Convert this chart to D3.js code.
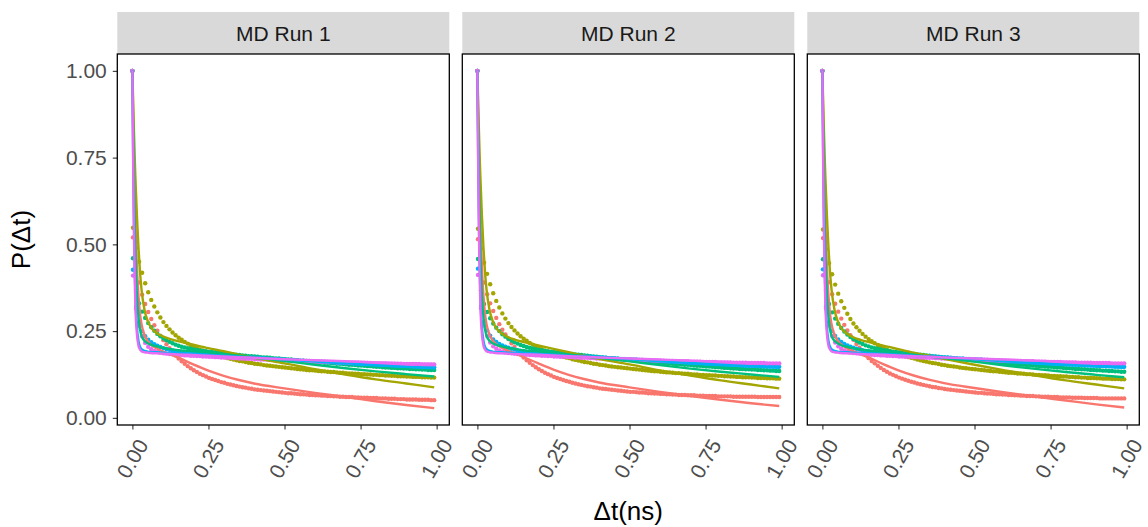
<!DOCTYPE html>
<html>
<head>
<meta charset="utf-8">
<script src="https://cdn.jsdelivr.net/npm/d3@7"></script>
<style>
  html, body { margin: 0; padding: 0; background: #fff; }
  svg { display: block; font-family: "Liberation Sans", Arial, Helvetica, sans-serif; }
</style>
</head>
<body>
<svg id="chart" width="1148" height="527"></svg>
<script>
// ---- data ------------------------------------------------------------
const runLabels = ["MD Run 1", "MD Run 2", "MD Run 3"];
const groupColors = ["#F8766D", "#A3A500", "#00BF7D", "#00B0F6", "#E76BF3"];
const xTicks = [0, 0.25, 0.5, 0.75, 1.0];
const yTicks = [0, 0.25, 0.5, 0.75, 1.0];

// sampling times (ns): t = 0, then every 10 ps starting at 2 ps
const sampleTimes = [0].concat(d3.range(100).map(k => +(0.002 + 0.01 * k).toFixed(3)));
// times at which the fitted curves are evaluated (ns)
const fitTimes = [0, 0.002, 0.004, 0.006, 0.008, 0.01, 0.015, 0.02, 0.025, 0.03, 0.04, 0.05, 0.06,
  0.08, 0.1, 0.125, 0.15, 0.2, 0.25, 0.3, 0.35, 0.4, 0.5, 0.6, 0.7, 0.8, 0.9, 0.992];

// ---------- MD Run 1: observed P(dt) ----------
const run1Red = [1.000,
  0.520, 0.440, 0.390, 0.355, 0.328, 0.305, 0.285, 0.267, 0.251, 0.237,
  0.224, 0.212, 0.201, 0.190, 0.180, 0.171, 0.163, 0.156, 0.149, 0.143,
  0.137, 0.132, 0.127, 0.123, 0.119, 0.115, 0.112, 0.109, 0.106, 0.103,
  0.101, 0.098, 0.096, 0.094, 0.092, 0.090, 0.088, 0.087, 0.085, 0.084,
  0.082, 0.081, 0.080, 0.079, 0.078, 0.077, 0.076, 0.075, 0.074, 0.073,
  0.072, 0.071, 0.071, 0.070, 0.069, 0.068, 0.068, 0.067, 0.066, 0.066,
  0.065, 0.065, 0.064, 0.064, 0.063, 0.063, 0.062, 0.062, 0.061, 0.061,
  0.060, 0.060, 0.060, 0.059, 0.059, 0.058, 0.058, 0.058, 0.057, 0.057,
  0.057, 0.056, 0.056, 0.056, 0.055, 0.055, 0.055, 0.054, 0.054, 0.054,
  0.053, 0.053, 0.053, 0.053, 0.052, 0.052, 0.052, 0.052, 0.051, 0.051];
const run1Olive = [1.000,
  0.548, 0.490, 0.450, 0.418, 0.388, 0.362, 0.340, 0.321, 0.304, 0.289,
  0.276, 0.265, 0.255, 0.246, 0.238, 0.231, 0.225, 0.219, 0.214, 0.209,
  0.205, 0.201, 0.197, 0.194, 0.191, 0.188, 0.185, 0.182, 0.179, 0.177,
  0.175, 0.172, 0.170, 0.168, 0.166, 0.164, 0.163, 0.161, 0.159, 0.158,
  0.156, 0.155, 0.154, 0.152, 0.151, 0.150, 0.149, 0.148, 0.147, 0.146,
  0.145, 0.144, 0.143, 0.142, 0.141, 0.140, 0.139, 0.138, 0.137, 0.137,
  0.136, 0.135, 0.134, 0.134, 0.133, 0.132, 0.132, 0.131, 0.130, 0.130,
  0.129, 0.128, 0.128, 0.127, 0.127, 0.126, 0.126, 0.125, 0.125, 0.124,
  0.124, 0.123, 0.123, 0.122, 0.122, 0.121, 0.121, 0.120, 0.120, 0.120,
  0.119, 0.119, 0.118, 0.118, 0.118, 0.117, 0.117, 0.117, 0.116, 0.116];
const run1Green = [1.000,
  0.460, 0.370, 0.330, 0.306, 0.288, 0.273, 0.261, 0.251, 0.242, 0.235,
  0.229, 0.224, 0.219, 0.215, 0.211, 0.208, 0.205, 0.203, 0.201, 0.199,
  0.197, 0.196, 0.194, 0.193, 0.192, 0.191, 0.190, 0.189, 0.188, 0.187,
  0.186, 0.185, 0.184, 0.183, 0.182, 0.181, 0.180, 0.179, 0.178, 0.178,
  0.177, 0.176, 0.175, 0.174, 0.174, 0.173, 0.172, 0.171, 0.171, 0.170,
  0.169, 0.168, 0.168, 0.167, 0.166, 0.165, 0.165, 0.164, 0.163, 0.162,
  0.162, 0.161, 0.160, 0.159, 0.159, 0.158, 0.157, 0.156, 0.156, 0.155,
  0.154, 0.153, 0.153, 0.152, 0.151, 0.151, 0.150, 0.149, 0.149, 0.148,
  0.147, 0.147, 0.146, 0.145, 0.145, 0.144, 0.144, 0.143, 0.143, 0.142,
  0.142, 0.141, 0.141, 0.140, 0.140, 0.139, 0.139, 0.138, 0.138, 0.138];
const run1Blue = [1.000,
  0.427, 0.320, 0.275, 0.250, 0.235, 0.225, 0.218, 0.212, 0.208, 0.204,
  0.201, 0.198, 0.196, 0.194, 0.192, 0.191, 0.189, 0.188, 0.187, 0.186,
  0.186, 0.185, 0.184, 0.184, 0.183, 0.182, 0.182, 0.181, 0.180, 0.180,
  0.179, 0.179, 0.178, 0.177, 0.177, 0.176, 0.176, 0.175, 0.174, 0.174,
  0.173, 0.173, 0.172, 0.171, 0.171, 0.170, 0.170, 0.169, 0.169, 0.168,
  0.168, 0.167, 0.167, 0.166, 0.166, 0.165, 0.165, 0.164, 0.164, 0.163,
  0.163, 0.162, 0.162, 0.161, 0.161, 0.160, 0.160, 0.159, 0.159, 0.158,
  0.158, 0.157, 0.157, 0.156, 0.156, 0.155, 0.155, 0.155, 0.154, 0.154,
  0.153, 0.153, 0.152, 0.152, 0.152, 0.151, 0.151, 0.150, 0.150, 0.150,
  0.149, 0.149, 0.149, 0.148, 0.148, 0.148, 0.147, 0.147, 0.147, 0.146];
const run1Pink = [1.000,
  0.410, 0.315, 0.265, 0.235, 0.216, 0.205, 0.198, 0.193, 0.190, 0.188,
  0.186, 0.185, 0.184, 0.183, 0.182, 0.181, 0.181, 0.180, 0.180, 0.179,
  0.179, 0.178, 0.178, 0.177, 0.177, 0.176, 0.176, 0.175, 0.175, 0.174,
  0.174, 0.173, 0.173, 0.172, 0.172, 0.171, 0.171, 0.170, 0.170, 0.170,
  0.169, 0.169, 0.168, 0.168, 0.168, 0.167, 0.167, 0.167, 0.166, 0.166,
  0.166, 0.165, 0.165, 0.165, 0.164, 0.164, 0.164, 0.163, 0.163, 0.163,
  0.162, 0.162, 0.162, 0.162, 0.161, 0.161, 0.161, 0.160, 0.160, 0.160,
  0.160, 0.159, 0.159, 0.159, 0.159, 0.158, 0.158, 0.158, 0.158, 0.157,
  0.157, 0.157, 0.157, 0.157, 0.156, 0.156, 0.156, 0.156, 0.156, 0.155,
  0.155, 0.155, 0.155, 0.155, 0.155, 0.154, 0.154, 0.154, 0.154, 0.154];

// ---------- MD Run 1: fitted curves (at fitTimes) ----------
const run1RedFit   = [1.0, 0.90, 0.80, 0.71, 0.63, 0.56, 0.43, 0.35, 0.30, 0.27, 0.238, 0.222, 0.212, 0.200,
  0.192, 0.183, 0.174, 0.154, 0.136, 0.121, 0.109, 0.099, 0.085, 0.072, 0.060, 0.048, 0.037, 0.028];
const run1OliveFit = [1.0, 0.93, 0.86, 0.80, 0.74, 0.69, 0.58, 0.49, 0.42, 0.37, 0.31, 0.28, 0.262, 0.244,
  0.235, 0.227, 0.221, 0.211, 0.201, 0.192, 0.182, 0.173, 0.157, 0.140, 0.125, 0.111, 0.099, 0.088];
const run1GreenFit = [1.0, 0.86, 0.74, 0.63, 0.54, 0.47, 0.35, 0.29, 0.255, 0.237, 0.222, 0.215, 0.211, 0.206,
  0.202, 0.198, 0.195, 0.192, 0.188, 0.184, 0.179, 0.174, 0.164, 0.153, 0.143, 0.134, 0.126, 0.119];
const run1BlueFit  = [1.0, 0.80, 0.64, 0.51, 0.42, 0.35, 0.26, 0.222, 0.205, 0.198, 0.193, 0.191, 0.190, 0.189,
  0.188, 0.187, 0.186, 0.184, 0.181, 0.179, 0.176, 0.173, 0.168, 0.162, 0.157, 0.152, 0.147, 0.143];
const run1PinkFit  = [1.0, 0.78, 0.61, 0.48, 0.39, 0.32, 0.24, 0.208, 0.197, 0.192, 0.189, 0.188, 0.187, 0.186,
  0.185, 0.184, 0.183, 0.181, 0.179, 0.177, 0.175, 0.173, 0.169, 0.166, 0.163, 0.160, 0.157, 0.155];

// ---------- MD Run 2: observed P(dt) ----------
const run2Red = [1.000,
  0.515, 0.438, 0.390, 0.356, 0.330, 0.308, 0.288, 0.270, 0.254, 0.240,
  0.227, 0.215, 0.204, 0.193, 0.183, 0.174, 0.166, 0.159, 0.152, 0.146,
  0.140, 0.135, 0.130, 0.126, 0.122, 0.118, 0.115, 0.112, 0.109, 0.106,
  0.104, 0.101, 0.099, 0.097, 0.095, 0.093, 0.091, 0.090, 0.088, 0.087,
  0.085, 0.084, 0.083, 0.082, 0.081, 0.080, 0.079, 0.078, 0.077, 0.076,
  0.075, 0.075, 0.074, 0.073, 0.073, 0.072, 0.071, 0.071, 0.070, 0.070,
  0.069, 0.069, 0.068, 0.068, 0.067, 0.067, 0.066, 0.066, 0.066, 0.065,
  0.065, 0.065, 0.064, 0.064, 0.064, 0.063, 0.063, 0.063, 0.063, 0.062,
  0.062, 0.062, 0.062, 0.062, 0.061, 0.061, 0.061, 0.061, 0.061, 0.061,
  0.061, 0.061, 0.060, 0.060, 0.060, 0.060, 0.060, 0.060, 0.060, 0.060];
const run2Olive = [1.000,
  0.545, 0.488, 0.447, 0.415, 0.385, 0.359, 0.337, 0.318, 0.301, 0.286,
  0.273, 0.262, 0.252, 0.243, 0.235, 0.228, 0.222, 0.216, 0.211, 0.206,
  0.202, 0.198, 0.194, 0.191, 0.188, 0.185, 0.182, 0.179, 0.176, 0.174,
  0.172, 0.169, 0.167, 0.165, 0.163, 0.161, 0.160, 0.158, 0.156, 0.155,
  0.153, 0.152, 0.151, 0.149, 0.148, 0.147, 0.146, 0.145, 0.144, 0.143,
  0.142, 0.141, 0.140, 0.139, 0.138, 0.137, 0.136, 0.135, 0.134, 0.134,
  0.133, 0.132, 0.131, 0.131, 0.130, 0.129, 0.129, 0.128, 0.127, 0.127,
  0.126, 0.125, 0.125, 0.124, 0.124, 0.123, 0.123, 0.122, 0.122, 0.121,
  0.121, 0.120, 0.120, 0.119, 0.119, 0.118, 0.118, 0.117, 0.117, 0.117,
  0.116, 0.116, 0.115, 0.115, 0.115, 0.114, 0.114, 0.114, 0.113, 0.113];
const run2Green = [1.000,
  0.458, 0.368, 0.328, 0.305, 0.287, 0.272, 0.260, 0.250, 0.241, 0.234,
  0.228, 0.223, 0.218, 0.214, 0.210, 0.207, 0.204, 0.202, 0.200, 0.198,
  0.196, 0.195, 0.193, 0.192, 0.191, 0.190, 0.189, 0.188, 0.187, 0.186,
  0.185, 0.184, 0.183, 0.182, 0.181, 0.180, 0.179, 0.178, 0.177, 0.176,
  0.175, 0.174, 0.173, 0.172, 0.172, 0.171, 0.170, 0.169, 0.168, 0.168,
  0.167, 0.166, 0.165, 0.164, 0.164, 0.163, 0.162, 0.161, 0.161, 0.160,
  0.159, 0.158, 0.158, 0.157, 0.156, 0.155, 0.155, 0.154, 0.153, 0.153,
  0.152, 0.151, 0.150, 0.150, 0.149, 0.148, 0.148, 0.147, 0.146, 0.146,
  0.145, 0.144, 0.144, 0.143, 0.142, 0.142, 0.141, 0.141, 0.140, 0.140,
  0.139, 0.139, 0.138, 0.138, 0.137, 0.137, 0.136, 0.136, 0.135, 0.135];
const run2Blue = [1.000,
  0.430, 0.322, 0.277, 0.252, 0.237, 0.226, 0.219, 0.213, 0.209, 0.205,
  0.202, 0.199, 0.197, 0.195, 0.193, 0.192, 0.190, 0.189, 0.188, 0.187,
  0.187, 0.186, 0.185, 0.185, 0.184, 0.183, 0.183, 0.182, 0.181, 0.181,
  0.180, 0.180, 0.179, 0.178, 0.178, 0.177, 0.177, 0.176, 0.175, 0.175,
  0.174, 0.174, 0.173, 0.172, 0.172, 0.171, 0.171, 0.170, 0.170, 0.169,
  0.169, 0.168, 0.168, 0.167, 0.167, 0.166, 0.166, 0.165, 0.165, 0.164,
  0.164, 0.163, 0.163, 0.162, 0.162, 0.161, 0.161, 0.160, 0.160, 0.159,
  0.159, 0.158, 0.158, 0.157, 0.157, 0.156, 0.156, 0.156, 0.155, 0.155,
  0.154, 0.154, 0.153, 0.153, 0.153, 0.152, 0.152, 0.151, 0.151, 0.151,
  0.150, 0.150, 0.150, 0.149, 0.149, 0.149, 0.148, 0.148, 0.148, 0.147];
const run2Pink = [1.000,
  0.412, 0.316, 0.266, 0.236, 0.217, 0.206, 0.199, 0.194, 0.191, 0.189,
  0.187, 0.186, 0.185, 0.184, 0.183, 0.182, 0.182, 0.181, 0.181, 0.180,
  0.180, 0.179, 0.179, 0.178, 0.178, 0.177, 0.177, 0.176, 0.176, 0.176,
  0.175, 0.175, 0.174, 0.174, 0.173, 0.173, 0.173, 0.172, 0.172, 0.171,
  0.171, 0.171, 0.170, 0.170, 0.170, 0.169, 0.169, 0.169, 0.168, 0.168,
  0.168, 0.167, 0.167, 0.167, 0.167, 0.166, 0.166, 0.166, 0.165, 0.165,
  0.165, 0.165, 0.164, 0.164, 0.164, 0.164, 0.163, 0.163, 0.163, 0.163,
  0.162, 0.162, 0.162, 0.162, 0.161, 0.161, 0.161, 0.161, 0.161, 0.160,
  0.160, 0.160, 0.160, 0.160, 0.159, 0.159, 0.159, 0.159, 0.159, 0.158,
  0.158, 0.158, 0.158, 0.158, 0.158, 0.157, 0.157, 0.157, 0.157, 0.157];

// ---------- MD Run 2: fitted curves ----------
const run2RedFit   = [1.0, 0.90, 0.80, 0.71, 0.63, 0.56, 0.43, 0.35, 0.30, 0.27, 0.240, 0.224, 0.214, 0.202,
  0.194, 0.185, 0.176, 0.157, 0.139, 0.124, 0.112, 0.102, 0.088, 0.075, 0.063, 0.052, 0.042, 0.034];
const run2OliveFit = [1.0, 0.93, 0.86, 0.80, 0.74, 0.69, 0.58, 0.49, 0.42, 0.37, 0.31, 0.28, 0.261, 0.243,
  0.233, 0.225, 0.219, 0.209, 0.199, 0.189, 0.179, 0.170, 0.154, 0.137, 0.122, 0.108, 0.096, 0.085];
const run2GreenFit = [1.0, 0.86, 0.74, 0.63, 0.54, 0.47, 0.35, 0.29, 0.255, 0.237, 0.222, 0.215, 0.211, 0.206,
  0.202, 0.198, 0.195, 0.191, 0.187, 0.183, 0.178, 0.173, 0.163, 0.152, 0.142, 0.133, 0.125, 0.118];
const run2BlueFit  = [1.0, 0.80, 0.64, 0.51, 0.42, 0.35, 0.26, 0.222, 0.205, 0.198, 0.193, 0.191, 0.190, 0.189,
  0.188, 0.187, 0.186, 0.184, 0.182, 0.179, 0.177, 0.174, 0.169, 0.163, 0.158, 0.153, 0.148, 0.144];
const run2PinkFit  = [1.0, 0.78, 0.61, 0.48, 0.39, 0.32, 0.24, 0.208, 0.197, 0.192, 0.189, 0.188, 0.187, 0.186,
  0.185, 0.184, 0.183, 0.182, 0.180, 0.178, 0.176, 0.174, 0.171, 0.168, 0.165, 0.162, 0.159, 0.157];

// ---------- MD Run 3: observed P(dt) ----------
const run3Red = [1.000,
  0.518, 0.440, 0.391, 0.356, 0.329, 0.306, 0.286, 0.268, 0.252, 0.238,
  0.225, 0.213, 0.202, 0.191, 0.181, 0.172, 0.164, 0.157, 0.150, 0.144,
  0.138, 0.133, 0.128, 0.124, 0.120, 0.116, 0.113, 0.110, 0.107, 0.104,
  0.102, 0.099, 0.097, 0.095, 0.093, 0.091, 0.089, 0.088, 0.086, 0.085,
  0.083, 0.082, 0.081, 0.080, 0.079, 0.078, 0.077, 0.076, 0.075, 0.074,
  0.073, 0.072, 0.072, 0.071, 0.070, 0.070, 0.069, 0.068, 0.068, 0.067,
  0.067, 0.066, 0.066, 0.065, 0.065, 0.064, 0.064, 0.063, 0.063, 0.063,
  0.062, 0.062, 0.061, 0.061, 0.061, 0.060, 0.060, 0.060, 0.059, 0.059,
  0.059, 0.059, 0.058, 0.058, 0.058, 0.058, 0.057, 0.057, 0.057, 0.057,
  0.057, 0.056, 0.056, 0.056, 0.056, 0.056, 0.056, 0.056, 0.056, 0.056];
const run3Olive = [1.000,
  0.543, 0.486, 0.446, 0.414, 0.384, 0.358, 0.336, 0.317, 0.300, 0.285,
  0.272, 0.261, 0.251, 0.242, 0.234, 0.227, 0.221, 0.215, 0.210, 0.205,
  0.201, 0.197, 0.193, 0.190, 0.187, 0.184, 0.181, 0.178, 0.175, 0.173,
  0.171, 0.168, 0.166, 0.164, 0.162, 0.160, 0.158, 0.157, 0.155, 0.153,
  0.152, 0.150, 0.149, 0.148, 0.147, 0.145, 0.144, 0.143, 0.142, 0.141,
  0.140, 0.139, 0.138, 0.137, 0.136, 0.135, 0.134, 0.134, 0.133, 0.132,
  0.131, 0.130, 0.130, 0.129, 0.128, 0.128, 0.127, 0.126, 0.126, 0.125,
  0.124, 0.124, 0.123, 0.123, 0.122, 0.121, 0.121, 0.120, 0.120, 0.119,
  0.119, 0.118, 0.118, 0.117, 0.117, 0.116, 0.116, 0.115, 0.115, 0.115,
  0.114, 0.114, 0.113, 0.113, 0.113, 0.112, 0.112, 0.112, 0.111, 0.111];
const run3Green = [1.000,
  0.457, 0.367, 0.328, 0.304, 0.286, 0.271, 0.259, 0.249, 0.240, 0.233,
  0.227, 0.222, 0.217, 0.213, 0.209, 0.206, 0.203, 0.201, 0.199, 0.197,
  0.195, 0.194, 0.192, 0.191, 0.190, 0.189, 0.188, 0.187, 0.186, 0.185,
  0.184, 0.183, 0.182, 0.181, 0.180, 0.179, 0.178, 0.177, 0.176, 0.175,
  0.174, 0.173, 0.172, 0.171, 0.170, 0.169, 0.169, 0.168, 0.167, 0.166,
  0.165, 0.164, 0.164, 0.163, 0.162, 0.161, 0.160, 0.160, 0.159, 0.158,
  0.157, 0.157, 0.156, 0.155, 0.154, 0.154, 0.153, 0.152, 0.152, 0.151,
  0.150, 0.149, 0.149, 0.148, 0.147, 0.147, 0.146, 0.145, 0.145, 0.144,
  0.143, 0.143, 0.142, 0.141, 0.141, 0.140, 0.140, 0.139, 0.138, 0.138,
  0.137, 0.137, 0.136, 0.136, 0.135, 0.135, 0.134, 0.134, 0.133, 0.133];
const run3Blue = [1.000,
  0.428, 0.321, 0.276, 0.251, 0.236, 0.226, 0.219, 0.213, 0.209, 0.205,
  0.202, 0.199, 0.197, 0.195, 0.193, 0.192, 0.190, 0.189, 0.188, 0.187,
  0.187, 0.186, 0.185, 0.185, 0.184, 0.183, 0.183, 0.182, 0.181, 0.181,
  0.180, 0.180, 0.179, 0.178, 0.178, 0.177, 0.177, 0.176, 0.175, 0.175,
  0.174, 0.174, 0.173, 0.172, 0.172, 0.171, 0.171, 0.170, 0.170, 0.169,
  0.169, 0.168, 0.168, 0.167, 0.167, 0.166, 0.166, 0.165, 0.165, 0.164,
  0.164, 0.163, 0.163, 0.162, 0.162, 0.161, 0.161, 0.160, 0.160, 0.159,
  0.159, 0.158, 0.158, 0.157, 0.157, 0.156, 0.156, 0.156, 0.155, 0.155,
  0.154, 0.154, 0.153, 0.153, 0.153, 0.152, 0.152, 0.151, 0.151, 0.151,
  0.150, 0.150, 0.150, 0.149, 0.149, 0.149, 0.148, 0.148, 0.148, 0.147];
const run3Pink = [1.000,
  0.411, 0.315, 0.266, 0.236, 0.217, 0.206, 0.199, 0.194, 0.191, 0.189,
  0.187, 0.186, 0.185, 0.184, 0.183, 0.182, 0.182, 0.181, 0.181, 0.180,
  0.180, 0.179, 0.179, 0.178, 0.178, 0.177, 0.177, 0.176, 0.176, 0.176,
  0.175, 0.175, 0.174, 0.174, 0.173, 0.173, 0.173, 0.172, 0.172, 0.171,
  0.171, 0.171, 0.170, 0.170, 0.170, 0.169, 0.169, 0.169, 0.168, 0.168,
  0.168, 0.167, 0.167, 0.167, 0.167, 0.166, 0.166, 0.166, 0.165, 0.165,
  0.165, 0.165, 0.164, 0.164, 0.164, 0.164, 0.163, 0.163, 0.163, 0.163,
  0.162, 0.162, 0.162, 0.162, 0.161, 0.161, 0.161, 0.161, 0.161, 0.160,
  0.160, 0.160, 0.160, 0.160, 0.159, 0.159, 0.159, 0.159, 0.159, 0.158,
  0.158, 0.158, 0.158, 0.158, 0.158, 0.157, 0.157, 0.157, 0.157, 0.157];

// ---------- MD Run 3: fitted curves ----------
const run3RedFit   = [1.0, 0.90, 0.80, 0.71, 0.63, 0.56, 0.43, 0.35, 0.30, 0.27, 0.239, 0.223, 0.213, 0.201,
  0.193, 0.184, 0.175, 0.155, 0.137, 0.122, 0.110, 0.100, 0.086, 0.073, 0.061, 0.050, 0.039, 0.030];
const run3OliveFit = [1.0, 0.93, 0.86, 0.80, 0.74, 0.69, 0.58, 0.49, 0.42, 0.37, 0.31, 0.28, 0.261, 0.243,
  0.233, 0.225, 0.219, 0.208, 0.198, 0.188, 0.179, 0.170, 0.153, 0.137, 0.122, 0.108, 0.096, 0.085];
const run3GreenFit = [1.0, 0.86, 0.74, 0.63, 0.54, 0.47, 0.35, 0.29, 0.255, 0.237, 0.222, 0.215, 0.210, 0.205,
  0.201, 0.197, 0.194, 0.190, 0.186, 0.182, 0.177, 0.172, 0.162, 0.151, 0.141, 0.132, 0.124, 0.117];
const run3BlueFit  = [1.0, 0.80, 0.64, 0.51, 0.42, 0.35, 0.26, 0.222, 0.205, 0.198, 0.193, 0.191, 0.190, 0.189,
  0.188, 0.187, 0.186, 0.184, 0.182, 0.179, 0.177, 0.174, 0.169, 0.163, 0.158, 0.153, 0.148, 0.144];
const run3PinkFit  = [1.0, 0.78, 0.61, 0.48, 0.39, 0.32, 0.24, 0.208, 0.197, 0.192, 0.189, 0.188, 0.187, 0.186,
  0.185, 0.184, 0.183, 0.182, 0.180, 0.178, 0.176, 0.174, 0.171, 0.168, 0.165, 0.162, 0.159, 0.157];

const runs = [
  { label: runLabels[0], points: [run1Red, run1Olive, run1Green, run1Blue, run1Pink],
    fits: [run1RedFit, run1OliveFit, run1GreenFit, run1BlueFit, run1PinkFit] },
  { label: runLabels[1], points: [run2Red, run2Olive, run2Green, run2Blue, run2Pink],
    fits: [run2RedFit, run2OliveFit, run2GreenFit, run2BlueFit, run2PinkFit] },
  { label: runLabels[2], points: [run3Red, run3Olive, run3Green, run3Blue, run3Pink],
    fits: [run3RedFit, run3OliveFit, run3GreenFit, run3BlueFit, run3PinkFit] }
];

// ---- layout ----------------------------------------------------------
const svg = d3.select("#chart");
const panelW = 332, panelGap = 13, firstLeft = 117.3;
const stripTop = 12, panelTop = 54, panelBottom = 425;
const fontTick = 21, fontStrip = 21, fontTitle = 26;

// shared scales (fixed facets) with 5% padding on both ends
function padded(lo, hi) { const p = (hi - lo) * 0.05; return [lo - p, hi + p]; }
const allY = runs.flatMap(r => r.points.flat().concat(r.fits.flat()));
const xDom = padded(0, d3.max(sampleTimes));
const yDom = padded(d3.min(allY), d3.max(allY));
const y = d3.scaleLinear().domain(yDom).range([panelBottom, panelTop]);

runs.forEach((run, i) => {
  const left = firstLeft + i * (panelW + panelGap);
  const x = d3.scaleLinear().domain(xDom).range([left, left + panelW]);

  // strip
  svg.append("rect").attr("x", left).attr("y", stripTop)
    .attr("width", panelW).attr("height", panelTop - stripTop).attr("fill", "#D9D9D9");
  svg.append("text").attr("x", left + panelW / 2).attr("y", 41)
    .attr("text-anchor", "middle").attr("font-size", fontStrip).attr("fill", "#1A1A1A")
    .text(run.label);

  const g = svg.append("g");
  // observed points
  run.points.forEach((vals, k) => {
    g.append("g").selectAll("circle").data(vals).join("circle")
      .attr("cx", (d, j) => x(sampleTimes[j]))
      .attr("cy", d => y(d))
      .attr("r", 2.2)
      .attr("fill", groupColors[k]);
  });
  // fitted curves
  const line = d3.line().x(d => x(d[0])).y(d => y(d[1])).curve(d3.curveMonotoneX);
  run.fits.forEach((vals, k) => {
    g.append("path").datum(fitTimes.map((t, j) => [t, vals[j]]))
      .attr("d", line).attr("fill", "none")
      .attr("stroke", groupColors[k]).attr("stroke-width", 2.4);
  });

  // x axis
  const xa = svg.append("g").attr("transform", `translate(0,${panelBottom})`)
    .call(d3.axisBottom(x).tickValues(xTicks).tickFormat(d3.format(".2f")).tickSize(4.5));
  xa.select(".domain").remove();
  xa.selectAll(".tick line").attr("stroke", "#333").attr("stroke-width", 1.1);
  xa.selectAll(".tick text")
    .attr("x", 0).attr("y", 0).attr("dy", "0.72em")
    .attr("transform", "translate(3,12) rotate(-60)")
    .attr("text-anchor", "end")
    .attr("font-size", fontTick).attr("font-family", null).attr("fill", "#4D4D4D");

  // y axis on the first panel only
  if (i === 0) {
    const ya = svg.append("g").attr("transform", `translate(${left},0)`)
      .call(d3.axisLeft(y).tickValues(yTicks).tickFormat(d3.format(".2f")).tickSize(4.5).tickPadding(6));
    ya.select(".domain").remove();
    ya.selectAll(".tick line").attr("stroke", "#333").attr("stroke-width", 1.1);
    ya.selectAll(".tick text").attr("font-size", fontTick).attr("font-family", null).attr("fill", "#4D4D4D");
  }

  // panel border
  svg.append("rect").attr("x", left).attr("y", panelTop)
    .attr("width", panelW).attr("height", panelBottom - panelTop)
    .attr("fill", "none").attr("stroke", "#000").attr("stroke-width", 1.3);
});

// axis titles
svg.append("text").attr("x", firstLeft + (3 * panelW + 2 * panelGap) / 2).attr("y", 520)
  .attr("text-anchor", "middle").attr("font-size", fontTitle).attr("fill", "#000").text("Δt(ns)");
svg.append("text").attr("transform", `translate(30,${(panelTop + panelBottom) / 2}) rotate(-90)`)
  .attr("text-anchor", "middle").attr("font-size", fontTitle).attr("fill", "#000").text("P(Δt)");
</script>
</body>
</html>
